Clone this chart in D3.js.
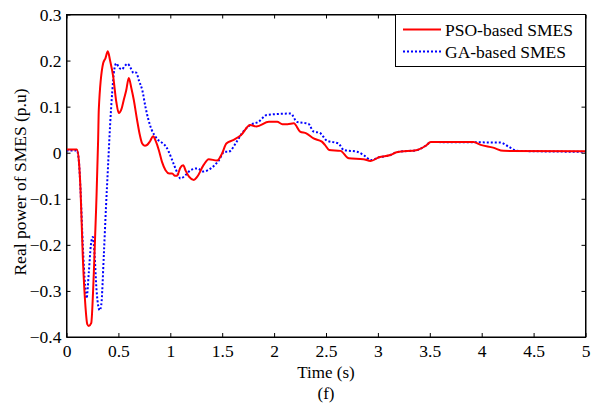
<!DOCTYPE html>
<html>
<head>
  <meta charset="utf-8">
  <script src="https://cdn.jsdelivr.net/npm/d3@7/dist/d3.min.js"></script>
  <style>
    body { margin: 0; background: #fff; }
    text { font-family: "Liberation Serif", "Times New Roman", serif; fill: #000; }
  </style>
</head>
<body>
<svg width="592" height="412"></svg>
<script>
// data
let psoT = [0, 0.10, 0.12, 0.135, 0.157, 0.183, 0.20, 0.215, 0.238, 0.263, 0.286, 0.305, 0.311, 0.353, 0.375, 0.398, 0.42, 0.45, 0.48, 0.504, 0.53, 0.552, 0.575, 0.60, 0.625, 0.648, 0.68, 0.705, 0.729, 0.755, 0.777, 0.805, 0.835, 0.86, 0.889, 0.92, 0.954, 0.99, 1.018, 1.045, 1.066, 1.095, 1.124, 1.15, 1.18, 1.227, 1.26, 1.32, 1.37, 1.45, 1.5, 1.54, 1.61, 1.68, 1.77, 1.83, 1.95, 2.03, 2.08, 2.13, 2.19, 2.25, 2.31, 2.38, 2.46, 2.49, 2.53, 2.64, 2.72, 2.86, 2.93, 3.01, 3.12, 3.18, 3.38, 3.46, 3.51, 3.92, 3.99, 4.11, 4.21, 5.0]
let psoV = [0.007, 0.007, -0.02, -0.08, -0.226, -0.335, -0.372, -0.376, -0.37, -0.262, -0.117, 0.03, 0.093, 0.194, 0.205, 0.22, 0.2, 0.165, 0.11, 0.086, 0.095, 0.115, 0.135, 0.162, 0.14, 0.115, 0.071, 0.04, 0.02, 0.015, 0.017, 0.025, 0.036, 0.025, 0.006, -0.02, -0.038, -0.045, -0.045, -0.05, -0.05, -0.033, -0.027, -0.04, -0.052, -0.059, -0.052, -0.027, -0.014, -0.017, -0.001, 0.02, 0.028, 0.038, 0.06, 0.057, 0.067, 0.067, 0.062, 0.062, 0.064, 0.046, 0.042, 0.031, 0.024, 0.017, 0.006, 0.004, -0.012, -0.014, -0.018, -0.01, -0.005, 0.001, 0.006, 0.015, 0.023, 0.023, 0.017, 0.011, 0.004, 0.003]

let gaT = [0, 0.10, 0.12, 0.135, 0.157, 0.18, 0.193, 0.215, 0.235, 0.254, 0.27, 0.29, 0.32, 0.335, 0.36, 0.38, 0.40, 0.42, 0.44, 0.46, 0.48, 0.505, 0.535, 0.56, 0.59, 0.615, 0.648, 0.67, 0.70, 0.73, 0.76, 0.79, 0.82, 0.857, 0.88, 0.905, 0.93, 0.96, 0.985, 1.03, 1.07, 1.098, 1.15, 1.195, 1.26, 1.32, 1.39, 1.47, 1.52, 1.56, 1.64, 1.69, 1.77, 1.85, 1.93, 2.16, 2.22, 2.33, 2.38, 2.44, 2.51, 2.62, 2.67, 2.8, 2.88, 2.93, 3.01, 3.12, 3.18, 3.38, 3.46, 3.51, 4.18, 4.26, 4.34, 5.0]
let gaV = [0.005, 0.005, -0.02, -0.08, -0.2, -0.29, -0.316, -0.26, -0.2, -0.183, -0.22, -0.3, -0.342, -0.33, -0.22, -0.12, -0.03, 0.06, 0.13, 0.18, 0.194, 0.185, 0.181, 0.188, 0.193, 0.185, 0.173, 0.174, 0.155, 0.136, 0.1, 0.071, 0.05, 0.035, 0.028, 0.024, 0.02, 0.013, 0.002, -0.023, -0.045, -0.056, -0.048, -0.038, -0.034, -0.041, -0.034, -0.016, 0.002, 0.002, 0.024, 0.042, 0.06, 0.067, 0.082, 0.085, 0.067, 0.063, 0.046, 0.043, 0.026, 0.02, 0.006, 0.002, -0.008, -0.016, -0.01, -0.005, 0.001, 0.006, 0.015, 0.023, 0.022, 0.013, 0.004, 0.002]

let xTicks = [0, 0.5, 1, 1.5, 2, 2.5, 3, 3.5, 4, 4.5, 5]
let yTicks = [-0.4, -0.3, -0.2, -0.1, 0, 0.1, 0.2, 0.3]
let legendNames = ["PSO-based SMES", "GA-based SMES"]

let L = 66.5, R = 585.5, T = 14.5, B = 337
let svg = d3.select("svg")

let x = d3.scaleLinear().domain([0, 5]).range([L, R])
let y = d3.scaleLinear().domain([-0.4, 0.3]).range([B, T])

// axes with inward ticks on all sides
let fmt = d => d3.format("")(+d.toFixed(1))
svg.append("g").attr("transform", "translate(0," + B + ")")
  .call(d3.axisBottom(x).tickValues(xTicks).tickSizeInner(-4).tickSizeOuter(0).tickPadding(8).tickFormat(fmt))
svg.append("g").attr("transform", "translate(0," + T + ")")
  .call(d3.axisTop(x).tickValues(xTicks).tickSizeInner(-4).tickSizeOuter(0).tickFormat(""))
svg.append("g").attr("transform", "translate(" + L + ",0)")
  .call(d3.axisLeft(y).tickValues(yTicks).tickSizeInner(-4).tickSizeOuter(0).tickPadding(5).tickFormat(fmt))
svg.append("g").attr("transform", "translate(" + R + ",0)")
  .call(d3.axisRight(y).tickValues(yTicks).tickSizeInner(-4).tickSizeOuter(0).tickFormat(""))

svg.selectAll(".tick text").attr("font-size", 17.5).attr("font-family", "Liberation Serif")
svg.selectAll(".domain").attr("stroke", "#000")
svg.selectAll(".tick line").attr("stroke", "#000")

// curves
let line = d3.line().x(d => x(d[0])).y(d => y(d[1])).curve(d3.curveMonotoneX)
let clip = svg.append("clipPath").attr("id", "clip").append("rect")
  .attr("x", L).attr("y", T).attr("width", R - L).attr("height", B - T)

svg.append("path")
  .datum(gaT.map((t, i) => [t, gaV[i]]))
  .attr("d", line).attr("fill", "none")
  .attr("stroke", "#0000ff").attr("stroke-width", 2).attr("stroke-dasharray", "2,2")
  .attr("clip-path", "url(#clip)")

svg.append("path")
  .datum(psoT.map((t, i) => [t, psoV[i]]))
  .attr("d", line).attr("fill", "none")
  .attr("stroke", "#ff0000").attr("stroke-width", 2)
  .attr("clip-path", "url(#clip)")

// box
svg.append("rect").attr("x", L).attr("y", T).attr("width", R - L).attr("height", B - T)
  .attr("fill", "none").attr("stroke", "#000")

// legend
let lg = svg.append("g")
lg.append("rect").attr("x", 395.5).attr("y", T).attr("width", R - 395.5).attr("height", 52)
  .attr("fill", "#fff").attr("stroke", "#000")
let legY = [29.5, 51.5]
lg.append("line").attr("x1", 403).attr("x2", 441).attr("y1", legY[0]).attr("y2", legY[0])
  .attr("stroke", "#ff0000").attr("stroke-width", 2)
lg.append("line").attr("x1", 403).attr("x2", 441).attr("y1", legY[1]).attr("y2", legY[1])
  .attr("stroke", "#0000ff").attr("stroke-width", 2).attr("stroke-dasharray", "2,2")
legendNames.forEach((n, i) => {
  lg.append("text").attr("x", 445).attr("y", legY[i] + 6).attr("font-size", 17.5).text(n)
})

// labels
svg.append("text").attr("x", (L + R) / 2).attr("y", 378).attr("text-anchor", "middle")
  .attr("font-size", 17).text("Time (s)")
svg.append("text").attr("x", (L + R) / 2).attr("y", 399).attr("text-anchor", "middle")
  .attr("font-size", 17).text("(f)")
svg.append("text").attr("transform", "translate(26,182) rotate(-90)").attr("text-anchor", "middle")
  .attr("font-size", 17.5).text("Real power of SMES (p.u)")
</script>
</body>
</html>
